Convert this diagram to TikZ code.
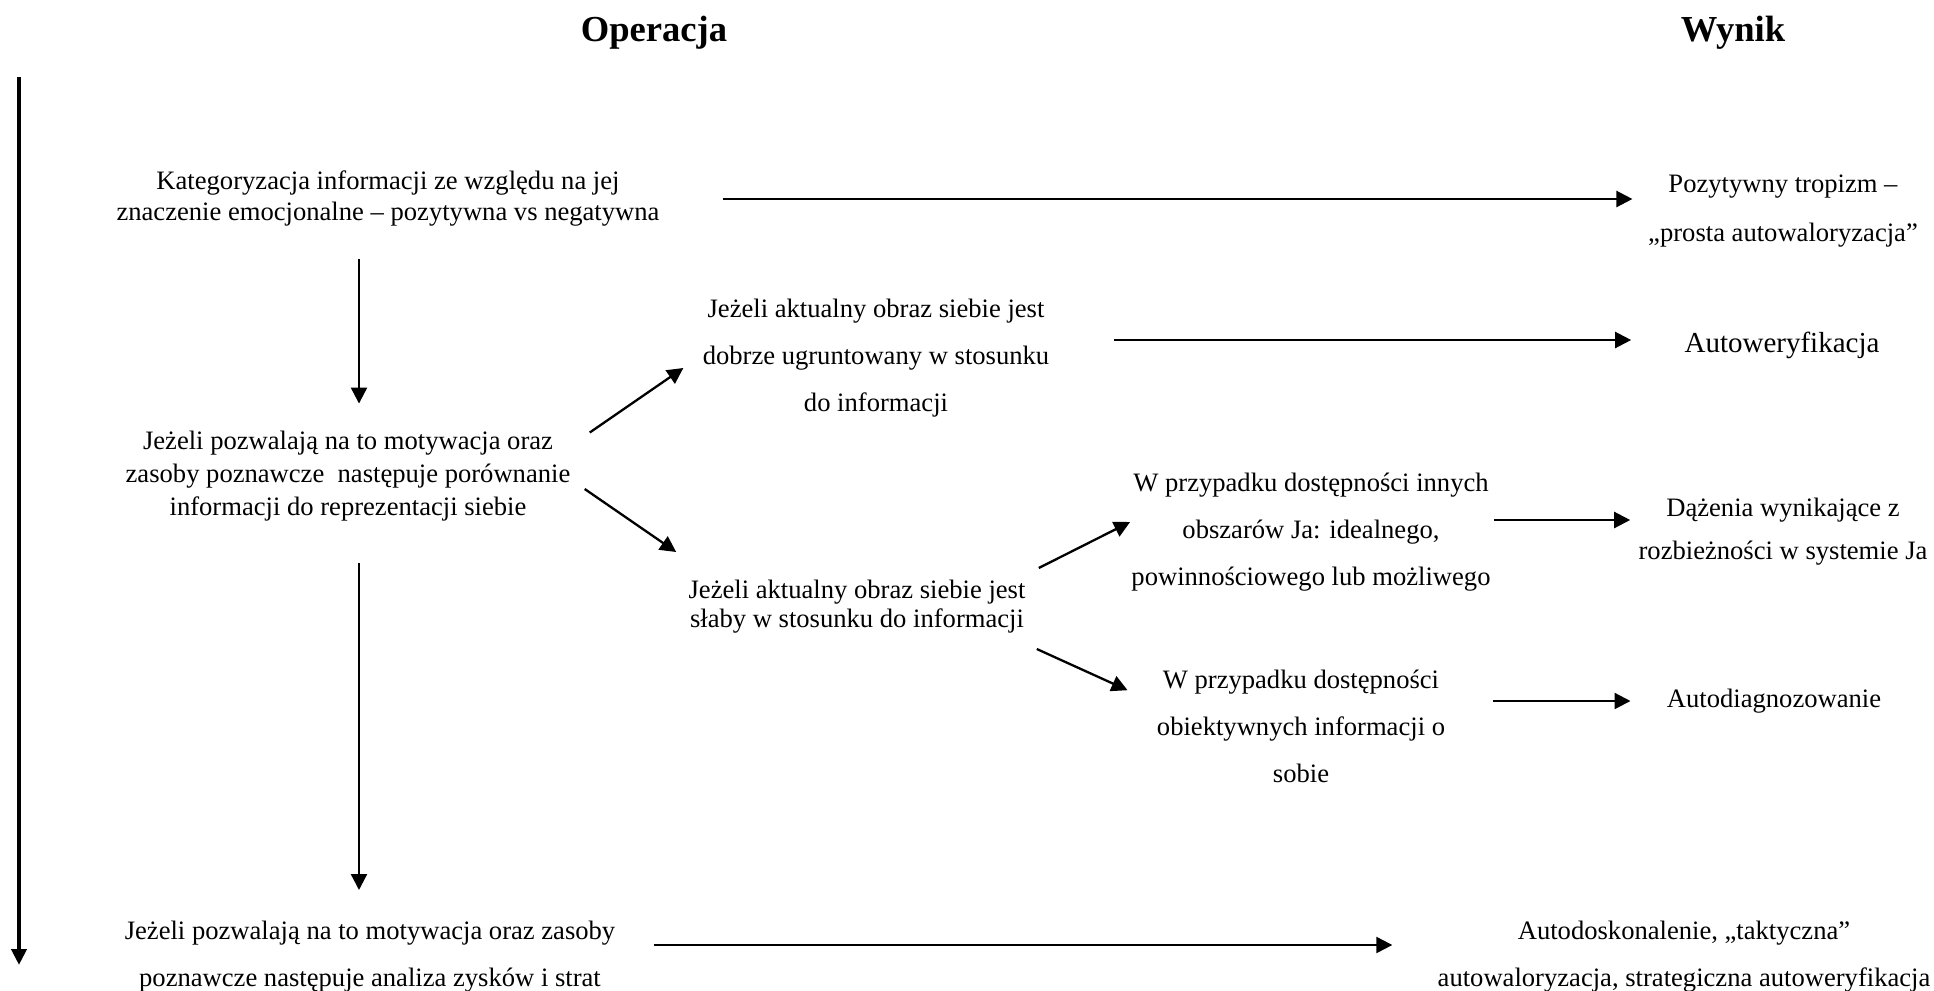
\documentclass[tikz,border=0pt]{standalone}
\usepackage{fontspec}
\setmainfont{Liberation Serif}
\usetikzlibrary{arrows.meta}

\begin{document}
\begin{tikzpicture}[x=0.5pt, y=-0.5pt,
  txt/.style={inner sep=0pt, align=center, font=\fontsize{13.3}{15.5}\selectfont},
  wide/.style={inner sep=0pt, align=center, font=\fontsize{13.3}{23.5}\selectfont},
  head/.style={inner sep=0pt, font=\fontsize{18.3}{22}\selectfont\bfseries},
  arr/.style={-{Triangle[length=8pt,width=8pt]}, line width=1.15pt},
  timeline/.style={-{Triangle[length=8pt,width=7.5pt]}, line width=2pt}]
  \useasboundingbox (0,0) rectangle (1934,991);
  \node[head] (oper) at (654,33) {Operacja};
  \node[head] (wynik) at (1733,33) {Wynik};
  \coordinate (tstart) at (19,77);
  \coordinate (tend) at (19,965);
  \coordinate (col) at (359,0);
  \draw[timeline] (tstart) -- (tend);
  \node[txt] (kat) at (388,199) {Kategoryzacja informacji ze względu na jej\\znaczenie emocjonalne – pozytywna vs negatywna};
  \node[txt,font=\fontsize{13.3}{16.5}\selectfont] (por) at (348,476) {Jeżeli pozwalają na to motywacja oraz\\zasoby poznawcze~ następuje porównanie\\informacji do reprezentacji siebie};
  \node[wide] (dobrze) at (876,358) {Jeżeli aktualny obraz siebie jest\\dobrze ugruntowany w stosunku\\do informacji};
  \node[txt,font=\fontsize{13.3}{14.5}\selectfont] (slaby) at (857,607) {Jeżeli aktualny obraz siebie jest\\słaby w stosunku do informacji};
  \node[wide] (inne) at (1311,532) {W przypadku dostępności innych\\obszarów Ja: idealnego,\\powinnościowego lub możliwego};
  \node[wide] (obiekt) at (1301,726) {W przypadku dostępności\\obiektywnych informacji o\\sobie};
  \node[wide] (zyski) at (370,957) {Jeżeli pozwalają na to motywacja oraz zasoby\\poznawcze następuje analiza zysków i strat};
  \node[wide,font=\fontsize{13.3}{24.5}\selectfont] (tropizm) at (1783,211) {Pozytywny tropizm –\\„prosta autowaloryzacja”};
  \node[txt,font=\fontsize{14.5}{17}\selectfont] (autower) at (1782,345) {Autoweryfikacja};
  \node[wide,font=\fontsize{13.3}{21.5}\selectfont] (dazenia) at (1783,532) {Dążenia wynikające z\\rozbieżności w systemie Ja};
  \node[txt] (autodiag) at (1774,701) {Autodiagnozowanie};
  \node[wide] (autodosk) at (1684,957) {Autodoskonalenie, „taktyczna”\\autowaloryzacja, strategiczna autoweryfikacja};
  \draw[arr, shorten <=31.7pt, shorten >=7.7pt] (kat.east) -- (kat.east -| tropizm.west);
  \draw[arr, shorten <=16pt, shorten >=13.5pt] (kat.south -| col) -- (por.north -| col);
  \draw[arr] ([shift={(19,2)}]por.north east) -- ([shift={(-19,10)}]dobrze.west);
  \draw[arr] ([shift={(14,13)}]por.east) -- ([shift={(-12,-28)}]slaby.north west);
  \draw[arr, shorten <=32pt, shorten >=26.5pt] ([yshift=2.5pt]dobrze.east |- autower) -- ([yshift=2.5pt]autower.west);
  \draw[arr] ([shift={(13,-12)}]slaby.north east) -- ([shift={(-1,-10)}]inne.west);
  \draw[arr] ([shift={(11,15)}]slaby.south east) -- ([shift={(-29,21)}]obiekt.north west);
  \draw[arr, shorten <=1.5pt, shorten >=4pt] ([yshift=6pt]inne.east) -- ([yshift=6pt]inne.east -| dazenia.west);
  \draw[arr, shorten <=24pt, shorten >=18pt] (obiekt.east |- autodiag) -- (autodiag.west);
  \draw[arr, shorten <=21pt, shorten >=15.5pt] (por.south -| col) -- (zyski.north -| col);
  \draw[arr, shorten <=19pt, shorten >=22.5pt] ([yshift=6pt]zyski.east) -- ([yshift=6pt]zyski.east -| autodosk.west);
\end{tikzpicture}
\end{document}
